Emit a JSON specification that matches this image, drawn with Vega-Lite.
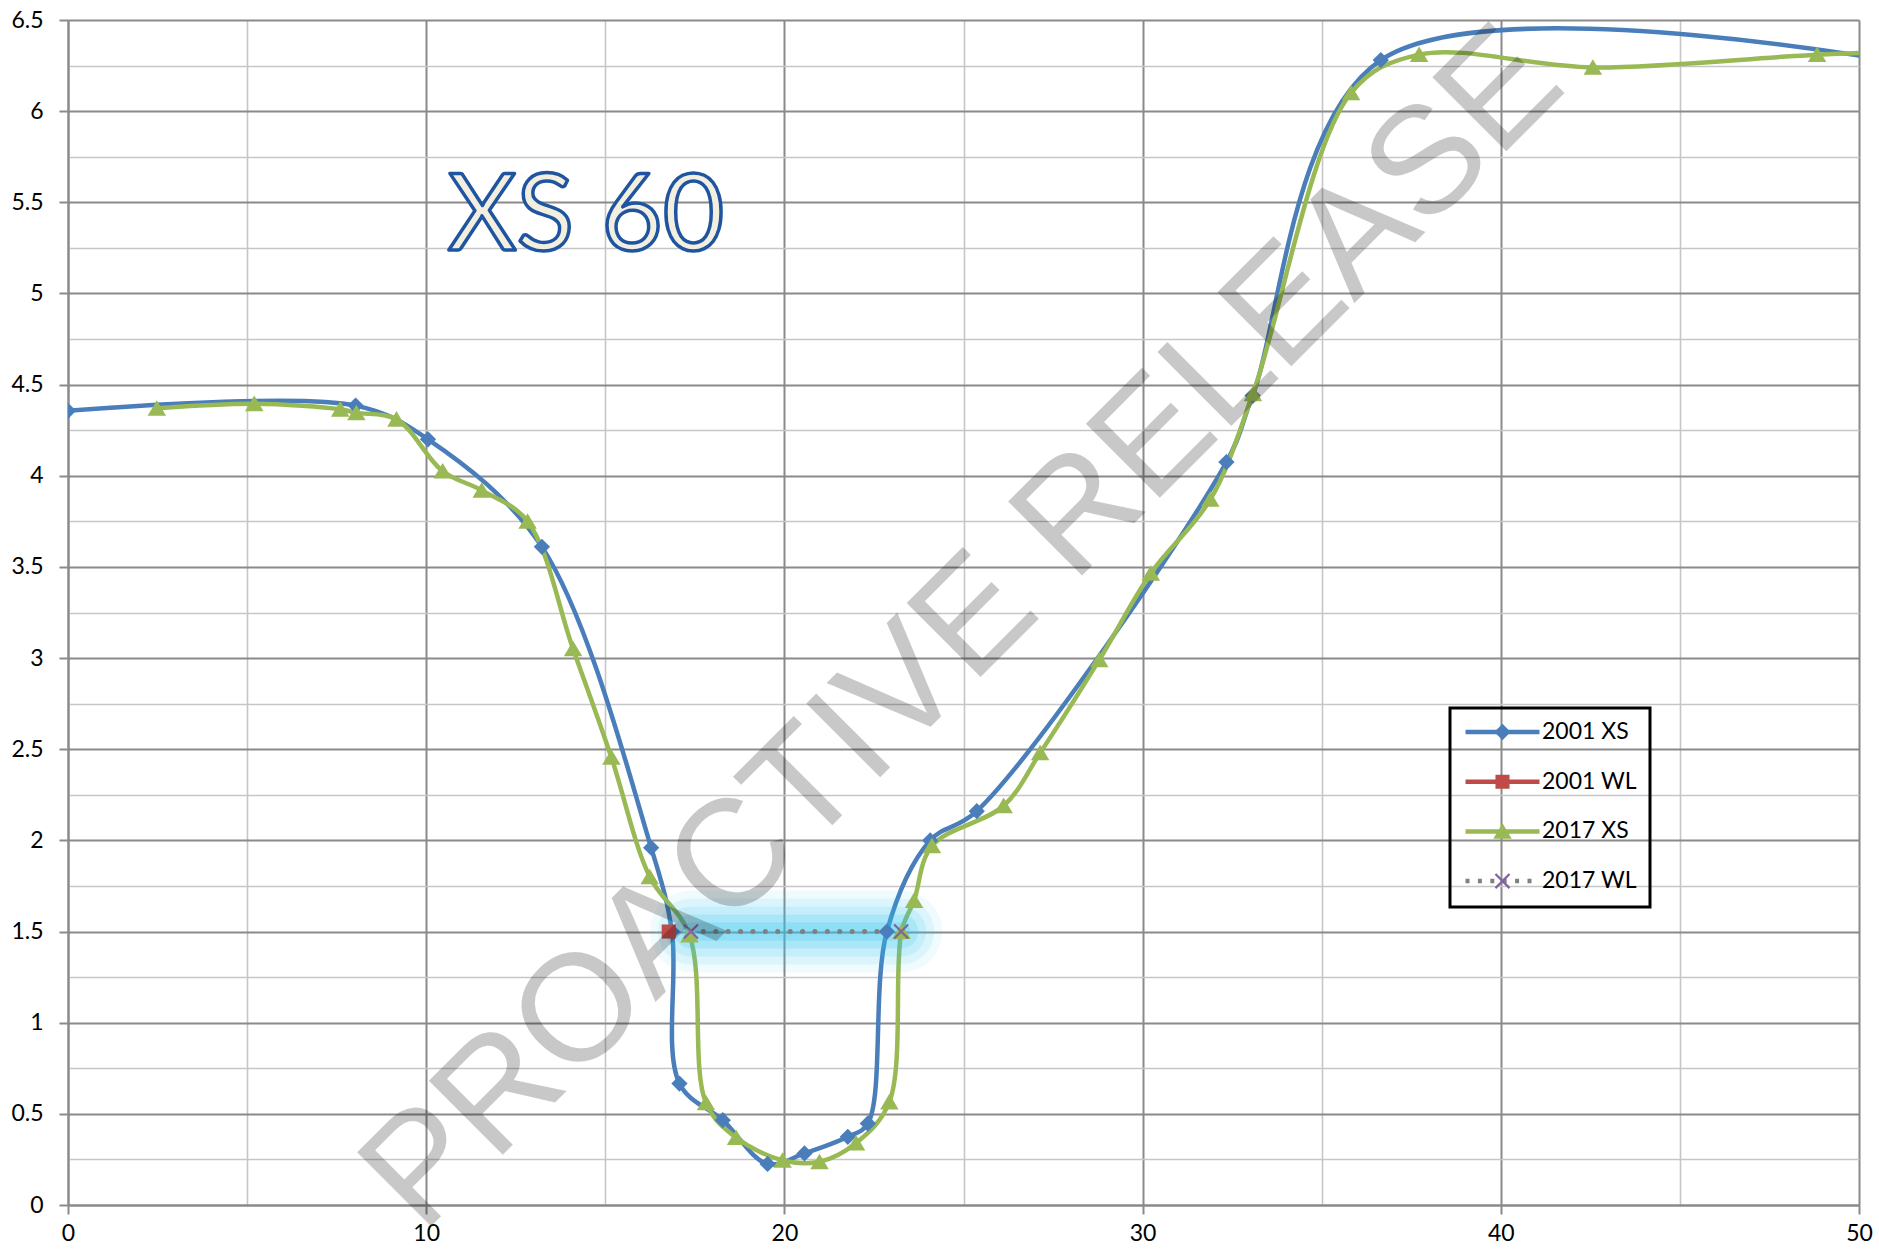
{
  "$schema": "https://vega.github.io/schema/vega-lite/v6.json",
  "width": 1791,
  "height": 1185,
  "autosize": {"type": "none"},
  "padding": {"left": 68, "top": 20, "right": 20, "bottom": 51},
  "background": "white",
  "config": {"view": {"stroke": null}, "font": "Lato", "legend": {"strokeWidth": 3}},
  "data": {
    "values": [
      {"series": "2001 XS", "x": 0, "y": 4.356},
      {"series": "2001 XS", "x": 8.03, "y": 4.385},
      {"series": "2001 XS", "x": 10.05, "y": 4.2},
      {"series": "2001 XS", "x": 13.23, "y": 3.61},
      {"series": "2001 XS", "x": 16.28, "y": 1.96},
      {"series": "2001 XS", "x": 16.86, "y": 1.5},
      {"series": "2001 XS", "x": 17.07, "y": 0.666},
      {"series": "2001 XS", "x": 18.28, "y": 0.465},
      {"series": "2001 XS", "x": 19.53, "y": 0.225},
      {"series": "2001 XS", "x": 20.56, "y": 0.283},
      {"series": "2001 XS", "x": 21.77, "y": 0.374},
      {"series": "2001 XS", "x": 22.33, "y": 0.447},
      {"series": "2001 XS", "x": 22.86, "y": 1.5},
      {"series": "2001 XS", "x": 24.07, "y": 2.0},
      {"series": "2001 XS", "x": 25.37, "y": 2.16},
      {"series": "2001 XS", "x": 32.34, "y": 4.075},
      {"series": "2001 XS", "x": 33.07, "y": 4.44},
      {"series": "2001 XS", "x": 36.65, "y": 6.28},
      {"series": "2001 XS", "x": 52, "y": 6.24},
      {"series": "2001 WL", "x": 16.77, "y": 1.5},
      {"series": "2017 XS", "x": 2.48, "y": 4.37},
      {"series": "2017 XS", "x": 5.2, "y": 4.395},
      {"series": "2017 XS", "x": 7.6, "y": 4.365},
      {"series": "2017 XS", "x": 8.05, "y": 4.345},
      {"series": "2017 XS", "x": 9.17, "y": 4.31},
      {"series": "2017 XS", "x": 10.46, "y": 4.025},
      {"series": "2017 XS", "x": 11.55, "y": 3.92},
      {"series": "2017 XS", "x": 12.83, "y": 3.75},
      {"series": "2017 XS", "x": 14.1, "y": 3.05},
      {"series": "2017 XS", "x": 15.17, "y": 2.455},
      {"series": "2017 XS", "x": 16.24, "y": 1.8},
      {"series": "2017 XS", "x": 17.35, "y": 1.48},
      {"series": "2017 XS", "x": 17.81, "y": 0.56},
      {"series": "2017 XS", "x": 18.65, "y": 0.37},
      {"series": "2017 XS", "x": 19.95, "y": 0.245},
      {"series": "2017 XS", "x": 20.98, "y": 0.237},
      {"series": "2017 XS", "x": 22.0, "y": 0.34},
      {"series": "2017 XS", "x": 22.93, "y": 0.565},
      {"series": "2017 XS", "x": 23.27, "y": 1.5},
      {"series": "2017 XS", "x": 23.62, "y": 1.67},
      {"series": "2017 XS", "x": 24.12, "y": 1.97},
      {"series": "2017 XS", "x": 26.12, "y": 2.19},
      {"series": "2017 XS", "x": 27.14, "y": 2.48},
      {"series": "2017 XS", "x": 28.79, "y": 2.99},
      {"series": "2017 XS", "x": 30.23, "y": 3.465},
      {"series": "2017 XS", "x": 31.89, "y": 3.87},
      {"series": "2017 XS", "x": 33.08, "y": 4.45},
      {"series": "2017 XS", "x": 35.82, "y": 6.1},
      {"series": "2017 XS", "x": 37.72, "y": 6.31},
      {"series": "2017 XS", "x": 42.57, "y": 6.24},
      {"series": "2017 XS", "x": 48.83, "y": 6.31},
      {"series": "2017 XS", "x": 52, "y": 6.33},
      {"series": "2017 WL", "x": 17.39, "y": 1.5},
      {"series": "2017 WL", "x": 23.26, "y": 1.5}
    ]
  },
  "encoding": {
    "x": {
      "field": "x", "type": "quantitative",
      "scale": {"domain": [0, 50], "nice": false, "zero": false},
      "axis": {
        "title": null,
        "values": [0, 5, 10, 15, 20, 25, 30, 35, 40, 45, 50],
        "labelExpr": "datum.value % 10 === 0 ? datum.label : ''",
        "labelFlush": false, "labelOverlap": false,
        "labelFont": "Lato", "labelFontSize": 23, "labelColor": "#000", "labelPadding": 8,
        "tickSize": 9, "tickWidth": 2,
        "tickColor": {"condition": {"test": "datum.value % 10 === 0", "value": "#8a8a8a"}, "value": "transparent"},
        "domainColor": "#8a8a8a", "domainWidth": 2,
        "grid": true,
        "gridColor": {"condition": {"test": "datum.value % 10 === 0", "value": "#8a8a8a"}, "value": "#c6c6c6"},
        "gridWidth": {"condition": {"test": "datum.value % 10 === 0", "value": 2}, "value": 1.6}
      }
    },
    "y": {
      "field": "y", "type": "quantitative",
      "scale": {"domain": [0, 6.5], "nice": false, "zero": false},
      "axis": {
        "title": null,
        "values": [0, 0.25, 0.5, 0.75, 1, 1.25, 1.5, 1.75, 2, 2.25, 2.5, 2.75, 3, 3.25, 3.5, 3.75, 4, 4.25, 4.5, 4.75, 5, 5.25, 5.5, 5.75, 6, 6.25, 6.5],
        "format": "~g",
        "labelExpr": "datum.value % 0.5 === 0 ? datum.label : ''",
        "labelOverlap": false,
        "labelFont": "Lato", "labelFontSize": 23, "labelColor": "#000", "labelPadding": 16,
        "tickSize": 9, "tickWidth": 2,
        "tickColor": {"condition": {"test": "datum.value % 0.5 === 0", "value": "#8a8a8a"}, "value": "transparent"},
        "domainColor": "#8a8a8a", "domainWidth": 2,
        "grid": true,
        "gridColor": {"condition": {"test": "datum.value % 0.5 === 0", "value": "#8a8a8a"}, "value": "#c6c6c6"},
        "gridWidth": {"condition": {"test": "datum.value % 0.5 === 0", "value": 2}, "value": 1.6}
      }
    }
  },
  "layer": [
    {
      "transform": [{"filter": "datum.series === '2001 XS' || datum.series === '2017 XS'"}],
      "mark": {"type": "line", "interpolate": "catmull-rom", "strokeWidth": 4.5, "strokeCap": "round", "strokeJoin": "round", "clip": true},
      "encoding": {
        "color": {
          "field": "series", "type": "nominal",
          "scale": {"domain": ["2001 XS", "2001 WL", "2017 XS", "2017 WL"], "range": ["#4a7ebb", "#be4b48", "#98b954", "#808080"]},
          "legend": {
            "orient": "none", "legendX": 1382, "legendY": 688, "title": null,
            "symbolType": "stroke", "symbolSize": 5476, "symbolStrokeWidth": 4.5,
            "clipHeight": 22, "rowPadding": 26.7, "padding": 13,
            "symbolOffset": 0, "labelOffset": 0,
            "symbolDash": {"expr": "datum.value === '2017 WL' ? [4, 8.4] : [1, 0]"},
            "labelFont": "Lato", "labelFontSize": 23, "labelColor": "#000",
            "strokeColor": "#000"
          }
        }
      }
    },
    {
      "transform": [{"filter": "datum.series === '2017 WL'"}],
      "mark": {"type": "line", "color": "#2ec4f1", "strokeWidth": 82, "opacity": 0.07, "strokeCap": "round"}
    },
    {
      "transform": [{"filter": "datum.series === '2017 WL'"}],
      "mark": {"type": "line", "color": "#2ec4f1", "strokeWidth": 66, "opacity": 0.1, "strokeCap": "round"}
    },
    {
      "transform": [{"filter": "datum.series === '2017 WL'"}],
      "mark": {"type": "line", "color": "#2ec4f1", "strokeWidth": 50, "opacity": 0.13, "strokeCap": "round"}
    },
    {
      "transform": [{"filter": "datum.series === '2017 WL'"}],
      "mark": {"type": "line", "color": "#2ec4f1", "strokeWidth": 34, "opacity": 0.18, "strokeCap": "round"}
    },
    {
      "transform": [{"filter": "datum.series === '2017 WL'"}],
      "mark": {"type": "line", "color": "#2ec4f1", "strokeWidth": 18, "opacity": 0.22, "strokeCap": "round"}
    },
    {
      "transform": [{"filter": "datum.series === '2017 WL'"}],
      "mark": {"type": "line", "color": "#808080", "strokeWidth": 5, "strokeDash": [0.1, 12.3], "strokeCap": "round"}
    },
    {
      "mark": {"type": "point", "filled": true, "size": 5476, "opacity": 1, "clip": true},
      "encoding": {
        "color": {"field": "series", "type": "nominal", "legend": null},
        "shape": {
          "field": "series", "type": "nominal",
          "sort": ["2001 XS", "2001 WL", "2017 XS", "2017 WL"],
          "scale": {"range": [
            "M0,-0.22L0.22,0L0,0.22L-0.22,0Z",
            "M-0.19,-0.19L0.19,-0.19L0.19,0.19L-0.19,0.19Z",
            "M0,-0.22L0.25,0.2L-0.25,0.2Z",
            "M-0.19,-0.19L0.19,0.19M-0.19,0.19L0.19,-0.19"
          ]},
          "legend": {
            "orient": "none", "legendX": 1382, "legendY": 688, "title": null,
            "symbolSize": 5476, "symbolStrokeWidth": 2.2,
            "clipHeight": 22, "rowPadding": 26.7, "padding": 13,
            "symbolOffset": 1, "labelOffset": 0,
            "labelFont": "Lato", "labelFontSize": 23, "labelOpacity": 0,
            "strokeColor": "transparent",
            "symbolOpacity": 1,
            "symbolFillColor": {"expr": "datum.value === '2017 WL' ? 'transparent' : scale('color', datum.value)"},
            "symbolStrokeColor": {"expr": "datum.value === '2017 WL' ? '#8064a2' : 'transparent'"}
          }
        }
      }
    },
    {
      "transform": [{"filter": "datum.series === '2017 WL'"}],
      "mark": {"type": "point", "shape": "M-0.19,-0.19L0.19,0.19M-0.19,0.19L0.19,-0.19", "filled": false, "size": 5476, "stroke": "#8064a2", "strokeWidth": 2.2, "opacity": 1}
    },
    {
      "data": {"values": [{"label": "XS 60", "x": 14.46, "y": 5.24}]},
      "mark": {"type": "text", "font": "Lato", "fontSize": 106, "fill": "#f3efe0", "stroke": "#1f55a0", "strokeWidth": 3.5, "strokeJoin": "round", "align": "center", "baseline": "alphabetic"},
      "encoding": {
        "text": {"field": "label", "type": "nominal"}
      }
    },
    {
      "data": {"values": [{"label": "PROACTIVE RELEASE", "x": 25.9, "y": 2.98}]},
      "mark": {"type": "text", "font": "Liberation Sans", "fontSize": 152, "fill": "#000", "opacity": 0.21, "angle": -45, "align": "center", "baseline": "alphabetic"},
      "encoding": {
        "text": {"field": "label", "type": "nominal"}
      }
    }
  ]
}
